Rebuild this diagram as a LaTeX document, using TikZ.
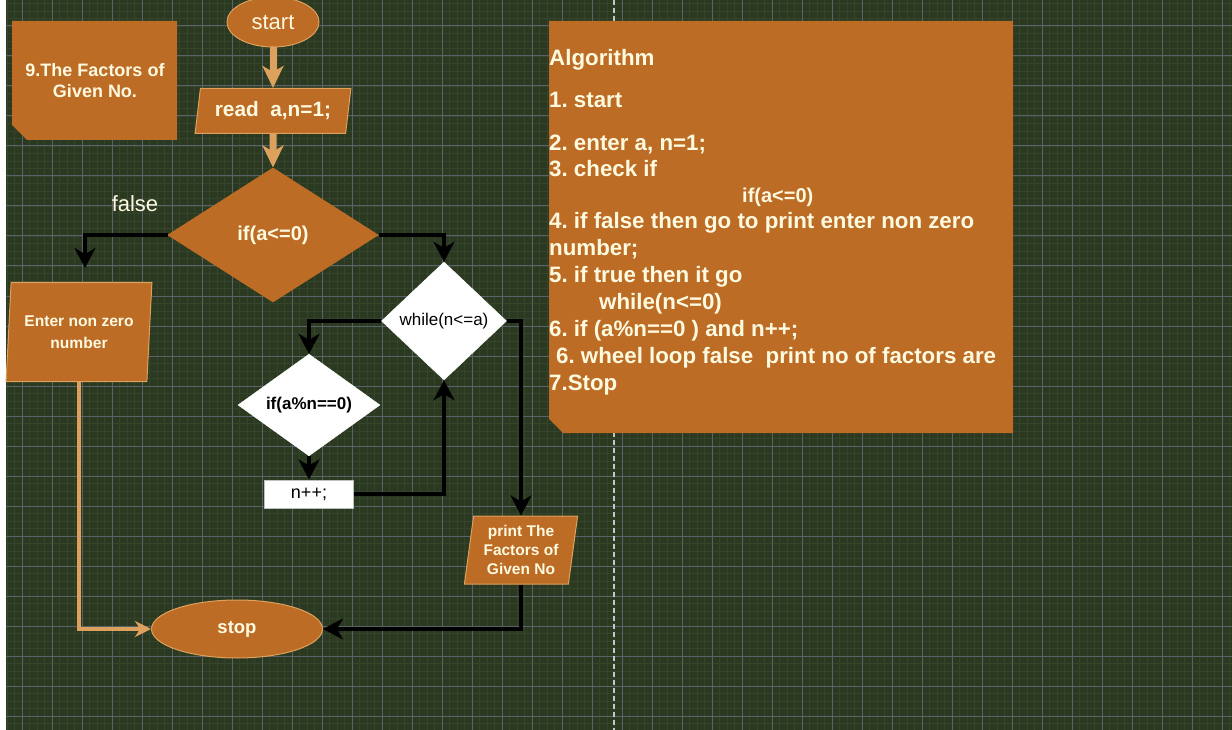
\documentclass[tikz,border=0pt]{standalone}
\usepackage{fontspec}
\setmainfont{Liberation Sans}
\usetikzlibrary{arrows.meta, shapes.geometric, positioning}
\definecolor{moss}{HTML}{2A391F}
\definecolor{gridmin}{HTML}{35442C}
\definecolor{gridmaj}{HTML}{5A636A}
\definecolor{rust}{HTML}{BC6C25}
\definecolor{sand}{HTML}{DDA15E}
\definecolor{cornsilk}{HTML}{FEFAE0}
\frenchspacing

\begin{document}
\begin{tikzpicture}[
    x=1pt, y=-1pt,
    >={Stealth[length=20pt, width=21pt, inset=6pt]},
    every node/.style={text=cornsilk},
  ]
  \useasboundingbox (0,0) rectangle (1232,730);

  % Background
  \fill[white] (0,0) rectangle (1232,730);
  \fill[moss] (6,0) rectangle (1232,730);
  \foreach \gx in {7,14.5,...,1232} \draw[gridmin, line width=0.9pt] (\gx,0) -- (\gx,730);
  \foreach \gy in {3.5,11,...,730} \draw[gridmin, line width=0.9pt] (6,\gy) -- (1232,\gy);
  \foreach \gx in {22,52,...,1232} \draw[gridmaj, line width=1pt] (\gx,0) -- (\gx,730);
  \foreach \gy in {26,56,...,730} \draw[gridmaj, line width=1pt] (6,\gy) -- (1232,\gy);
  \draw[gray!45, line width=1.5pt, dash pattern=on 5pt off 3pt] (614,0) -- (614,730);

  % --- Styles ---
  \tikzset{
    flowbox/.style={fill=rust, draw=sand, line width=1pt, inner sep=0pt, align=center},
    term/.style={flowbox, ellipse},
    io/.style={flowbox, trapezium, trapezium stretches=true},
    test/.style={diamond, fill=white, draw=white, inner sep=0pt, align=center, text=black},
    wire/.style={->, line width=4.5pt, black},
    sandwire/.style={->, line width=7pt, sand, >={Stealth[length=22pt, width=21pt, inset=6pt]}},
    sandthin/.style={->, line width=3.5pt, sand, >={Stealth[length=16pt, width=16pt, inset=5pt]}},
    algtext/.style={anchor=base west, inner sep=0pt, font=\fontsize{22.3}{27}\selectfont\bfseries},
  }

  % --- Cards ---
  \fill[rust] (12,21) -- (177,21) -- (177,140) -- (27,140) -- (12,125) -- cycle;
  \fill[rust] (549,21) -- (1013,21) -- (1013,433) -- (563,433) -- (549,419) -- cycle;
  \node[font=\fontsize{18}{21}\selectfont\bfseries, align=center] (title) at (95,80.5)
    {9.The Factors of\\Given No.};

  % --- Algorithm text ---
  \node[algtext] (algtitle) at (549,66) {Algorithm};
  \node[algtext] (step1) at (549,108) {1. start};
  \node[algtext] (step2) at (549,151) {2. enter a, n=1;};
  \node[algtext] (step3) at (549,177) {3. check if};
  \node[algtext, font=\fontsize{20}{24}\selectfont\bfseries] (step3b) at (742,203) {if(a<=0)};
  \node[algtext] (step4) at (549,229) {4. if false then go to print enter non zero};
  \node[algtext] (step4b) at (549,256) {number;};
  \node[algtext] (step5) at (549,283) {5. if true then it go};
  \node[algtext] (step5b) at (599,309) {while(n<=0)};
  \node[algtext] (step6) at (549,336) {6. if (a\%n==0 ) and n++;};
  \node[algtext] (step6b) at (556,363) {6. wheel loop false\ \ print no of factors are};
  \node[algtext] (step7) at (549,390) {7.Stop};

  % --- Flowchart nodes ---
  \node[term, minimum width=92pt, minimum height=50pt,
        font=\fontsize{22}{26}\selectfont] (start) at (273,22) {start};
  \node[io, trapezium left angle=77, trapezium right angle=103,
        minimum width=156pt, minimum height=45pt,
        font=\fontsize{20.8}{24}\selectfont\bfseries] (read) at (273,111) {read\ \ a,n=1;};
  \node[flowbox, diamond, draw=rust, minimum width=210pt, minimum height=134pt,
        font=\fontsize{20}{24}\selectfont\bfseries] (ifa) at (273,235) {if(a<=0)};
  \node[font=\fontsize{22}{26}\selectfont] (falselbl) at (135,204) {false};
  \node[io, trapezium left angle=83, trapezium right angle=97,
        minimum width=146pt, minimum height=99pt,
        font=\fontsize{15.6}{22}\selectfont\bfseries] (enter) at (79,332) {Enter non zero\\number};
  \node[test, minimum width=125pt, minimum height=118pt,
        font=\fontsize{17}{20}\selectfont] (loop) at (444,321) {while(n<=a)};
  \node[test, minimum width=142pt, minimum height=93pt,
        font=\fontsize{17}{20}\selectfont\bfseries] (ifmod) at (309,405) {if(a\%n==0)};
  \node[fill=white, draw=gray!50, line width=1pt, minimum width=89pt, minimum height=28pt,
        text=black, font=\fontsize{18}{22}\selectfont] (inc) at (309,494) {n++;};
  \node[io, trapezium left angle=81.6, trapezium right angle=98.4,
        minimum width=114pt, minimum height=68pt,
        font=\fontsize{15.5}{19}\selectfont\bfseries] (print) at (521,550) {print The\\Factors of\\Given No};
  \node[term, minimum width=171pt, minimum height=58pt,
        font=\fontsize{18.5}{22}\selectfont\bfseries] (stop) at (237,629) {stop};

  % --- Connectors ---
  \coordinate (falseend) at (85,268);
  \draw[sandwire] (start) -- (read);
  \draw[sandwire] (read) -- (ifa);
  \draw[wire] (ifa.west) -| (falseend);
  \draw[wire] (ifa.east) -| (loop.north);
  \draw[wire] (loop.west) -| (ifmod.north);
  \draw[wire] (ifmod.south) -- (inc.north);
  \draw[wire] (inc.east) -| (loop.south);
  \draw[wire] (loop.east) -| (print.north);
  \draw[wire] (print.south) |- (stop.east);
  \draw[sandthin] (enter.south) |- (stop.west);

\end{tikzpicture}
\end{document}
